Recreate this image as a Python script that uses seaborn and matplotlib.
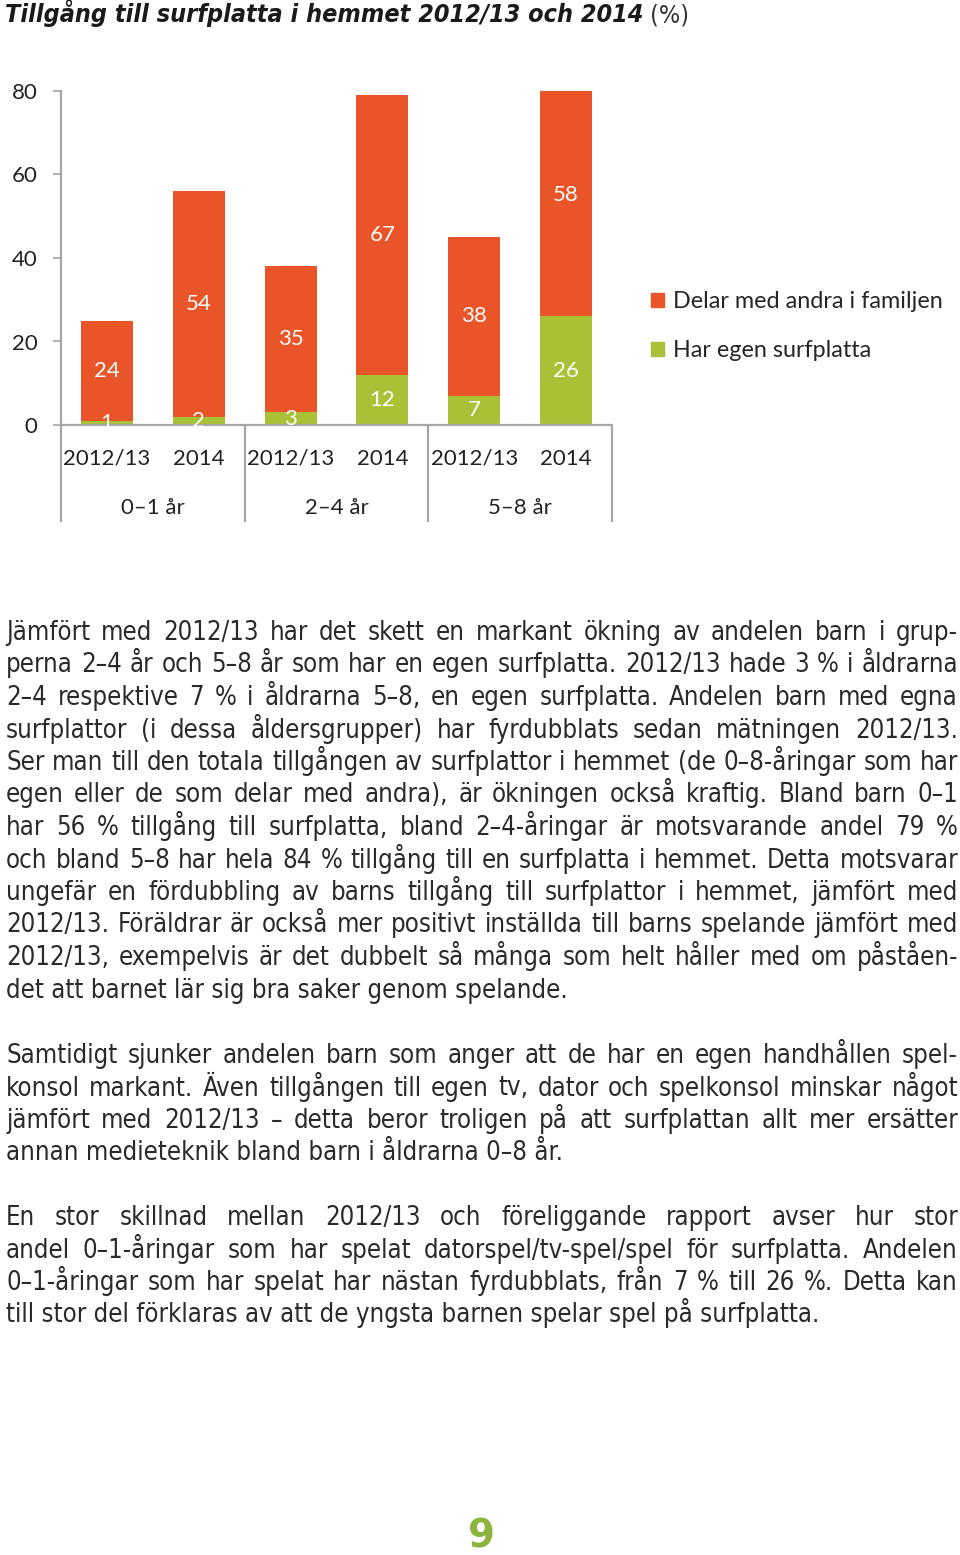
import matplotlib
matplotlib.use('Agg')
import matplotlib.pyplot as plt
import seaborn as sns
import pandas as pd
from matplotlib import font_manager
from matplotlib.font_manager import FontProperties
from matplotlib.patches import Patch

# data
groups = ['0–1 år', '2–4 år', '5–8 år']
years = ['2012/13', '2014']
own_tablet = [1, 2, 3, 12, 7, 26]
shared = [24, 54, 35, 67, 38, 58]
series_names = ['Delar med andra i familjen', 'Har egen surfplatta']

title_bold = 'Tillgång till surfplatta i hemmet 2012/13 och 2014'
title_rest = ' (%)'

paragraphs = [
    ["Jämfört med 2012/13 har det skett en markant ökning av andelen barn i grup-",
     "perna 2–4 år och 5–8 år som har en egen surfplatta. 2012/13 hade 3 % i åldrarna",
     "2–4 respektive 7 % i åldrarna 5–8, en egen surfplatta. Andelen barn med egna",
     "surfplattor (i dessa åldersgrupper) har fyrdubblats sedan mätningen 2012/13.",
     "Ser man till den totala tillgången av surfplattor i hemmet (de 0–8-åringar som har",
     "egen eller de som delar med andra), är ökningen också kraftig. Bland barn 0–1",
     "har 56 % tillgång till surfplatta, bland 2–4-åringar är motsvarande andel 79 %",
     "och bland 5–8 har hela 84 % tillgång till en surfplatta i hemmet. Detta motsvarar",
     "ungefär en fördubbling av barns tillgång till surfplattor i hemmet, jämfört med",
     "2012/13. Föräldrar är också mer positivt inställda till barns spelande jämfört med",
     "2012/13, exempelvis är det dubbelt så många som helt håller med om påståen-",
     "det att barnet lär sig bra saker genom spelande."],
    ["Samtidigt sjunker andelen barn som anger att de har en egen handhållen spel-",
     "konsol markant. Även tillgången till egen tv, dator och spelkonsol minskar något",
     "jämfört med 2012/13 – detta beror troligen på att surfplattan allt mer ersätter",
     "annan medieteknik bland barn i åldrarna 0–8 år."],
    ["En stor skillnad mellan 2012/13 och föreliggande rapport avser hur stor",
     "andel 0–1-åringar som har spelat datorspel/tv-spel/spel för surfplatta. Andelen",
     "0–1-åringar som har spelat har nästan fyrdubblats, från 7 % till 26 %. Detta kan",
     "till stor del förklaras av att de yngsta barnen spelar spel på surfplatta."],
]
page_number = '9'

ORANGE = '#E95428'
GREEN = '#A8C136'
GRAY = '#A6A6A6'
W, H = 960, 1555

sns.set_theme(style='white')
names = {f.name for f in font_manager.fontManager.ttflist}
chart_font = 'Lato' if 'Lato' in names else 'DejaVu Sans'
plt.rcParams['font.family'] = [chart_font, 'DejaVu Sans']


def narrow_font(weight, style):
    # look for a condensed face, fall back to plain DejaVu Sans
    wanted_w = 'bold' if weight == 'bold' else 'normal'
    for f in font_manager.fontManager.ttflist:
        narrowish = ('Narrow' in f.name or 'Condensed' in f.name
                     or f.stretch in ('condensed', 'semi-condensed'))
        w_ok = (f.weight in (700, 'bold')) == (wanted_w == 'bold')
        s_ok = (f.style != 'normal') == (style != 'normal')
        if narrowish and w_ok and s_ok:
            return f.fname
    return None


def props(weight, style, size):
    fname = narrow_font(weight, style)
    if fname:
        return FontProperties(fname=fname, size=size)
    return FontProperties(family='DejaVu Sans', weight=weight, style=style, size=size)


keys = [f'{g} {y}' for g in groups for y in years]
df = pd.DataFrame({
    'key': keys,
    'own': own_tablet,
    'shared': shared,
})
df['total'] = df['own'] + df['shared']

fig = plt.figure(figsize=(W / 100, H / 100), dpi=100)
ax = fig.add_axes([61 / W, 1 - 425 / H, (612 - 61) / W, (425 - 91) / H])

sns.barplot(data=df, x='key', y='total', color=ORANGE, width=0.565,
            saturation=1, errorbar=None, linewidth=0, ax=ax, order=keys)
sns.barplot(data=df, x='key', y='own', color=GREEN, width=0.565,
            saturation=1, errorbar=None, linewidth=0, ax=ax, order=keys)

ax.set_ylim(0, 80)
ax.set_xlim(-0.5, 5.5)
ax.set_yticks([0, 20, 40, 60, 80])
ax.set_xticks(range(len(keys)))
ax.set_xticklabels([y for g in groups for y in years])
ax.set_xlabel('')
ax.set_ylabel('')
ax.tick_params(axis='x', length=0, pad=17, labelsize=16, labelcolor='#222222')
ax.tick_params(axis='y', length=6, width=1.2, color=GRAY, pad=11,
               labelsize=16, labelcolor='#222222', left=True)
for side in ['top', 'right']:
    ax.spines[side].set_visible(False)
for side in ['left', 'bottom']:
    ax.spines[side].set_color(GRAY)
    ax.spines[side].set_linewidth(1.6)

# value labels inside segments
for i, (o, s) in enumerate(zip(own_tablet, shared)):
    ax.text(i, o / 2, str(o), ha='center', va='center', color='white',
            fontsize=16, clip_on=False)
    ax.text(i, o + s / 2, str(s), ha='center', va='center', color='white',
            fontsize=16, clip_on=False)

# group separators and group labels
xt = ax.get_xaxis_transform()
for x in [-0.5, 1.5, 3.5, 5.5]:
    ax.plot([x, x], [0, -0.29], transform=xt, color=GRAY, lw=1.6,
            clip_on=False, solid_capstyle='butt')
for gi, g in enumerate(groups):
    ax.text(gi * 2 + 0.5, -0.25, g, transform=xt, ha='center', va='center',
            fontsize=16, color='#222222')

handles = [Patch(color=ORANGE, label=series_names[0]),
           Patch(color=GREEN, label=series_names[1])]
fig.legend(handles=handles, loc='upper left', bbox_to_anchor=(651 / W, 1 - 291 / H),
           frameon=False, fontsize=16.8, handlelength=0.55, handleheight=0.55,
           handletextpad=0.4, labelspacing=1.2, borderpad=0, borderaxespad=0)

renderer = fig.canvas.get_renderer()


def text_width(s, **kw):
    t = fig.text(0, 0, s, **kw)
    w = t.get_window_extent(renderer).width
    t.remove()
    return w


# title
tp = props('bold', 'italic', 19)
tw = text_width(title_bold, fontproperties=tp)
tp.set_size(19 * 638 / tw)
fig.text(5 / W, 1 - 22 / H, title_bold, va='baseline', fontproperties=tp, color='#1a1a1a')
tw = text_width(title_bold, fontproperties=tp)
rp = props('normal', 'normal', tp.get_size())
fig.text((5 + tw) / W, 1 - 22 / H, title_rest, va='baseline', color='#333333',
         fontproperties=rp)

# body text, justified; size chosen so the longest line just fits
left, right = 6, 958
bp = props('normal', 'normal', 18)
widest = max(text_width(line, fontproperties=bp) for p in paragraphs for line in p[:-1])
bp.set_size(min(20, 18 * (right - left - 6) / widest))

starts = [640, 1063, 1225]
for para, base in zip(paragraphs, starts):
    for li, line in enumerate(para):
        y = 1 - (base + li * 32.5) / H
        if li == len(para) - 1:
            fig.text(left / W, y, line, va='baseline', fontproperties=bp, color='#2a2a2a')
            continue
        words = line.split(' ')
        widths = [text_width(w, fontproperties=bp) for w in words]
        gap = (right - left - sum(widths)) / (len(words) - 1)
        x = left
        for w, wd in zip(words, widths):
            fig.text(x / W, y, w, va='baseline', fontproperties=bp, color='#2a2a2a')
            x += wd + gap

fig.text(482 / W, 1 - 1536 / H, page_number, ha='center', va='center',
         fontsize=28, fontweight='bold', color='#8DB43E', family='DejaVu Sans')

fig.savefig('out.png', dpi=100)
